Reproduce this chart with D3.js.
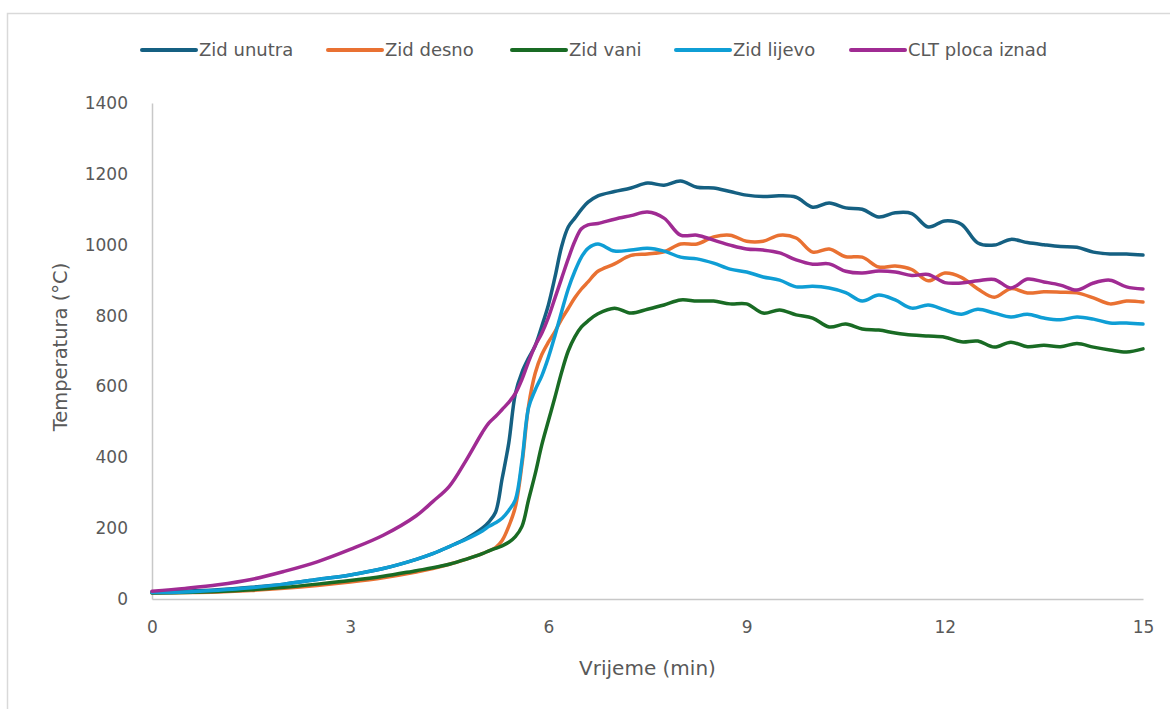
<!DOCTYPE html>
<html>
<head>
<meta charset="utf-8">
<script src="https://cdn.jsdelivr.net/npm/d3@7"></script>
<style>
  html, body { margin: 0; padding: 0; background: #fff; }
  svg { display: block; }
  text { font-family: "DejaVu Sans", "Liberation Sans", sans-serif; fill: #595959; }
</style>
</head>
<body>
<svg id="chart" width="1170" height="709"></svg>
<script>
// ---- data ----
const time = [0,0.5,1,1.5,2,2.5,3,3.5,4,4.25,4.5,4.75,5,5.1,5.2,5.3,5.4,5.5,5.6,5.7,5.8,5.9,6,6.1,6.2,6.3,6.4,6.5,6.6,6.75,
  7,7.25,7.5,7.75,8,8.25,8.5,8.75,9,9.25,9.5,9.75,10,10.25,10.5,10.75,11,11.25,11.5,11.75,12,12.25,12.5,12.75,13,13.25,13.5,13.75,14,14.25,14.5,14.75,15];

const zidUnutra = [20,22,26,33,42,55,68,86,112,128,148,170,200,218,245,340,440,580,640,680,715,770,830,909,995,1050,1075,1100,1120,1138,
  1150,1160,1174,1168,1180,1162,1160,1150,1140,1136,1138,1134,1106,1118,1104,1100,1078,1090,1088,1050,1067,1058,1005,999,1015,1006,1000,995,993,979,974,974,971];

const zidDesno = [17,18,20,24,30,38,48,60,76,86,98,112,128,136,145,165,205,260,380,545,637,690,725,755,790,820,850,875,895,925,
  946,970,974,980,1002,1002,1022,1027,1010,1010,1027,1019,979,988,966,965,937,940,930,898,920,908,875,852,876,864,867,866,864,850,833,841,838];

const zidVani = [17,18,21,26,33,42,52,64,80,88,98,112,128,136,143,150,160,176,205,280,353,435,503,570,640,700,740,768,785,805,
  821,807,818,830,844,841,841,833,833,807,816,802,793,768,776,762,759,751,745,742,739,726,728,711,725,712,716,712,721,711,703,697,706];

const zidLijevo = [18,20,25,32,42,55,68,86,112,128,148,168,192,205,215,228,250,280,390,540,590,630,682,744,811,875,925,965,990,1002,
  982,985,990,982,965,960,948,931,923,909,900,881,883,878,865,841,858,844,821,830,816,804,818,807,796,804,793,788,796,790,779,779,776];

const cltPloca = [22,30,40,55,78,105,140,180,235,275,318,390,470,497,515,535,555,580,620,670,715,750,795,850,905,960,1010,1045,1056,1060,
  1072,1082,1092,1075,1027,1027,1013,999,988,985,977,957,945,946,925,920,926,923,913,916,893,892,898,902,878,903,895,886,872,892,900,881,875];

const seriesNames = ["Zid unutra","Zid desno","Zid vani","Zid lijevo","CLT ploca iznad"];
const seriesValues = [zidUnutra, zidDesno, zidVani, zidLijevo, cltPloca];
const seriesColors = ["#156082","#E97132","#196B24","#0F9ED5","#A02B93"];

const xTicks = [0,3,6,9,12,15];
const yTicks = [0,200,400,600,800,1000,1200,1400];
const xTitle = "Vrijeme (min)";
const yTitle = "Temperatura (°C)";

// ---- drawing ----
(function () {
const svg = d3.select("#chart");

// outer chart border (left and top visible)
svg.append("path")
  .attr("d", "M7.5,709 L7.5,13.5 L1170,13.5")
  .attr("fill", "none").attr("stroke", "#d9d9d9").attr("stroke-width", 1.5);

const pL = 152, pR = 1143, pT = 103, pB = 599;
const x = d3.scaleLinear().domain([0, 15]).range([pL, pR]);
const y = d3.scaleLinear().domain([0, 1400]).range([pB, pT]);

// y axis
const yAxis = svg.append("g").attr("transform", `translate(${pL},0)`)
  .call(d3.axisLeft(y).tickValues(yTicks).tickSize(0).tickPadding(24).tickFormat(d3.format("d")));
yAxis.select(".domain").attr("stroke", "#c8c8c8").attr("stroke-width", 1.5);
yAxis.selectAll("text").style("font-size", "17px").style("fill", "#595959")
  .style("font-family", '"DejaVu Sans", sans-serif');

// x axis
const xAxis = svg.append("g").attr("transform", `translate(0,${pB})`)
  .call(d3.axisBottom(x).tickValues(xTicks).tickSize(0).tickPadding(22).tickFormat(d3.format("d")));
xAxis.select(".domain").attr("stroke", "#c8c8c8").attr("stroke-width", 1.5);
xAxis.selectAll("text").style("font-size", "17px").style("fill", "#595959")
  .style("font-family", '"DejaVu Sans", sans-serif');

// axis titles
svg.append("text").attr("x", (pL + pR) / 2).attr("y", 675)
  .attr("text-anchor", "middle").style("font-size", "20px").text(xTitle);
svg.append("text").attr("transform", `translate(67,347) rotate(-90)`)
  .attr("text-anchor", "middle").style("font-size", "19.5px").text(yTitle);

// lines
const line = d3.line()
  .x((d, i) => x(time[i]))
  .y(d => y(d))
  .curve(d3.curveCatmullRom.alpha(0.5));

seriesValues.forEach((vals, k) => {
  svg.append("path")
    .datum(vals)
    .attr("fill", "none")
    .attr("stroke", seriesColors[k])
    .attr("stroke-width", 3.5)
    .attr("stroke-linejoin", "round")
    .attr("stroke-linecap", "round")
    .attr("d", line);
});

// legend
const legendX = [142, 328, 512, 676, 851];
const legendY = 50;
const lg = svg.append("g");
seriesNames.forEach((name, k) => {
  lg.append("line")
    .attr("x1", legendX[k]).attr("x2", legendX[k] + 54)
    .attr("y1", legendY).attr("y2", legendY)
    .attr("stroke", seriesColors[k]).attr("stroke-width", 4)
    .attr("stroke-linecap", "round");
  lg.append("text")
    .attr("x", legendX[k] + 57).attr("y", legendY)
    .attr("dy", "0.35em")
    .style("font-size", "18px")
    .text(name);
});
})();
</script>
</body>
</html>
